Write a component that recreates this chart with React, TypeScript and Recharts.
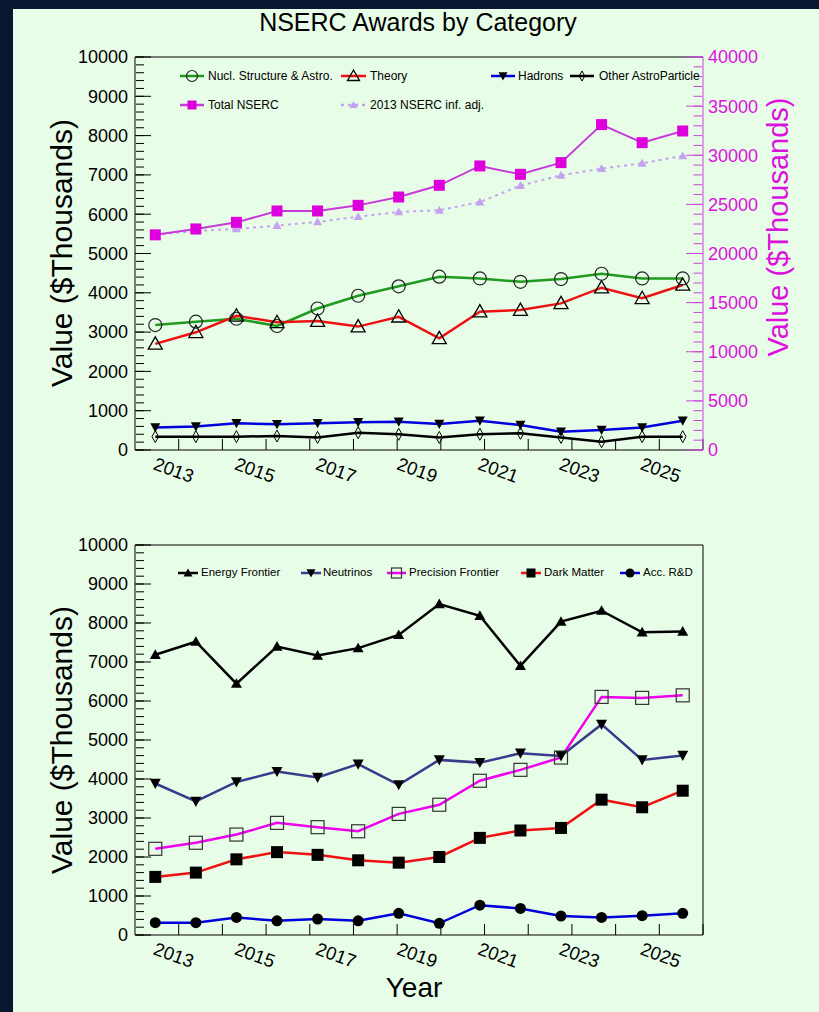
import React from "react";
import { LineChart, Line, XAxis, YAxis } from "recharts";

// fiscal years, one bin each
const years = ["2013", "2014", "2015", "2016", "2017", "2018", "2019", "2020", "2021", "2022", "2023", "2024", "2025", "2026"];

// top pad ($Thousands), left axis
const nuclStructure = [3180, 3265, 3340, 3155, 3600, 3925, 4165, 4410, 4365, 4280, 4350, 4485, 4365, 4365];
const theory = [2700, 2995, 3415, 3250, 3280, 3140, 3390, 2840, 3520, 3560, 3730, 4130, 3860, 4200];
const hadrons = [570, 595, 680, 655, 680, 705, 720, 660, 745, 635, 465, 510, 575, 745];
const otherAstro = [340, 340, 340, 355, 320, 440, 400, 320, 400, 425, 320, 210, 340, 340];
// top pad, right axis
const totalNserc = [21900, 22500, 23170, 24330, 24330, 24900, 25750, 26940, 28910, 28060, 29250, 33120, 31280, 32470];
const nserc2013Adj = [21900, 22290, 22500, 22840, 23210, 23750, 24230, 24400, 25240, 26910, 27960, 28640, 29180, 29930];

// bottom pad
const energyFrontier = [7185, 7520, 6445, 7395, 7165, 7355, 7695, 8485, 8185, 6900, 8035, 8315, 7760, 7780];
const neutrinos = [3885, 3425, 3925, 4190, 4040, 4380, 3850, 4490, 4420, 4660, 4590, 5400, 4490, 4605];
const precisionFrontier = [2210, 2365, 2575, 2875, 2765, 2660, 3105, 3340, 3955, 4235, 4550, 6105, 6080, 6145];
const darkMatter = [1490, 1600, 1940, 2125, 2055, 1915, 1855, 2000, 2490, 2680, 2745, 3470, 3275, 3700];
const accRD = [315, 315, 450, 365, 410, 365, 555, 300, 765, 680, 485, 450, 495, 555];

// axis ticks
const leftTicks = [0, 1000, 2000, 3000, 4000, 5000, 6000, 7000, 8000, 9000, 10000];
const leftMinor = Array.from({ length: 51 }, (_, i) => i * 200);
const rightTicks = [0, 5000, 10000, 15000, 20000, 25000, 30000, 35000, 40000];
const rightMinor = Array.from({ length: 41 }, (_, i) => i * 1000);
const binEdges = years.slice(1).map((_, i) => i + 1);

const topData = years.map((year, i) => ({
  year,
  nucl: nuclStructure[i],
  theory: theory[i],
  hadrons: hadrons[i],
  other: otherAstro[i],
  total: totalNserc[i],
  adj: nserc2013Adj[i],
}));

const bottomData = years.map((year, i) => ({
  year,
  energy: energyFrontier[i],
  neutrinos: neutrinos[i],
  precision: precisionFrontier[i],
  dark: darkMatter[i],
  acc: accRD[i],
}));

const FONT = '"Liberation Sans", Arial, Helvetica, sans-serif';
const MAGENTA_AXIS = "#cc44dd";
const MAGENTA_TEXT = "#dd11dd";
// plot is 568px wide with 14 bins: half a bin of padding puts points at bin centres
const HALF_BIN = 568 / 14 / 2;

type Kind = "circleOpen" | "triangleOpen" | "triDown" | "diamondOpen" | "square" | "triangle" | "squareOpen" | "circle";

function Marker({ kind, cx, cy, color, size }: { kind: Kind; cx: number; cy: number; color: string; size: number }) {
  const h = size / 2;
  switch (kind) {
    case "circleOpen":
      return <circle cx={cx} cy={cy} r={h} fill="none" stroke={color} strokeWidth={1.2} />;
    case "circle":
      return <circle cx={cx} cy={cy} r={h} fill={color} />;
    case "triangleOpen":
      return <polygon points={`${cx},${cy - h} ${cx - h},${cy + h * 0.75} ${cx + h},${cy + h * 0.75}`} fill="none" stroke={color} strokeWidth={1.3} />;
    case "triangle":
      return <polygon points={`${cx},${cy - h} ${cx - h},${cy + h * 0.75} ${cx + h},${cy + h * 0.75}`} fill={color} />;
    case "triDown":
      return <polygon points={`${cx - h},${cy - h * 0.85} ${cx + h},${cy - h * 0.85} ${cx},${cy + h}`} fill={color} />;
    case "diamondOpen":
      return <polygon points={`${cx},${cy - h} ${cx + h * 0.55},${cy} ${cx},${cy + h} ${cx - h * 0.55},${cy}`} fill="none" stroke={color} strokeWidth={1} />;
    case "squareOpen":
      return <rect x={cx - h} y={cy - h} width={size} height={size} fill="none" stroke={color} strokeWidth={1.2} />;
    default:
      return <rect x={cx - h} y={cy - h} width={size} height={size} fill={color} />;
  }
}

const dotOf = (kind: Kind, color: string, size: number) => (p: any) => (
  <Marker key={`m-${p.index}`} kind={kind} cx={p.cx} cy={p.cy} color={color} size={size} />
);

// year labels, rotated like the original
function YearTick(props: any) {
  const { x, y, payload } = props;
  const tx = x - 3;
  const ty = y + 19;
  return (
    <text x={tx} y={ty} transform={`rotate(20 ${tx} ${ty})`} textAnchor="start" fontSize={18.5} fill="#000">
      {payload.value}
    </text>
  );
}

const NoTick = () => <g />;

const rotTitle = (x: number, y: number, color: string, size: number, text: string) => () => (
  <text x={x} y={y} transform={`rotate(-90 ${x} ${y})`} textAnchor="middle" fill={color} fontSize={size}>
    {text}
  </text>
);

const flatTitle = (x: number, y: number, size: number, text: string) => () => (
  <text x={x} y={y} textAnchor="middle" fill="#000" fontSize={size}>
    {text}
  </text>
);

function LegendItem({ x, y, len, textX, color, dash, kind, mColor, size, label, fontSize }: {
  x: number; y: number; len: number; textX: number; color: string; dash?: string; kind: Kind; mColor: string; size: number; label: string; fontSize: number;
}) {
  return (
    <>
      <svg style={{ position: "absolute", left: x, top: y - 8, overflow: "visible" }} width={len} height={16}>
        <line x1={0} y1={8} x2={len} y2={8} stroke={color} strokeWidth={2.5} strokeDasharray={dash} />
        <Marker kind={kind} cx={len / 2} cy={8} color={mColor} size={size} />
      </svg>
      <span style={{ position: "absolute", left: textX, top: y - fontSize * 0.62, fontSize, lineHeight: `${fontSize * 1.2}px`, whiteSpace: "nowrap", color: "#000" }}>
        {label}
      </span>
    </>
  );
}

// tick-only axes (ticks point into the frame); a 0 size axis is not drawn, so 1px.
// allowDataOverflow lets the fixed domain stand with no series attached
function edgeAxes() {
  return [
    <XAxis key="edge" xAxisId="edge" type="number" domain={[0, 14]} allowDataOverflow ticks={binEdges} mirror height={1} tick={NoTick} axisLine={false} tickSize={11} stroke="#000" interval={0} />,
    <XAxis key="top" xAxisId="top" orientation="top" type="number" domain={[0, 14]} allowDataOverflow height={1} tick={false} tickLine={false} stroke="#000" />,
    <YAxis key="lmaj" yAxisId="leftMajor" mirror width={1} domain={[0, 10000]} allowDataOverflow ticks={leftTicks} tick={NoTick} axisLine={false} tickSize={16} stroke="#000" interval={0} />,
    <YAxis key="lmin" yAxisId="leftMinor" mirror width={1} domain={[0, 10000]} allowDataOverflow ticks={leftMinor} tick={NoTick} axisLine={false} tickSize={8} stroke="#000" interval={0} />,
  ];
}

export default function App() {
  return (
    <div style={{ position: "absolute", left: 0, top: 0, width: 819, height: 1012, background: "#0b1631", fontFamily: FONT, overflow: "hidden" }}>
      <div style={{ position: "absolute", left: 13, top: 9, width: 806, height: 1003, background: "#e8fde8" }} />

      <div style={{ position: "absolute", left: 0, top: 7, width: 836, textAlign: "center", fontSize: 25, lineHeight: "30px", color: "#000" }}>
        NSERC Awards by Category
      </div>

      {/* top pad */}
      <div style={{ position: "absolute", left: 0, top: 0 }}>
        <LineChart width={819} height={500} data={topData} margin={{ top: 56, right: 0, bottom: 0, left: 0 }}>
          <XAxis dataKey="year" height={50} interval={1} padding={{ left: HALF_BIN, right: HALF_BIN }} tick={<YearTick />} tickLine={false} tickSize={0} tickMargin={0} stroke="#000" />
          {edgeAxes()}
          <YAxis yAxisId="left" width={135} domain={[0, 10000]} allowDataOverflow ticks={leftTicks} interval={0} tickLine={false} tickSize={0} tickMargin={7}
            stroke="#000" tick={{ fill: "#000", fontSize: 18 }}
            label={{ content: rotTitle(72, 253, "#000", 30, "Value ($Thousands)") }} />
          <YAxis yAxisId="right" orientation="right" width={116} domain={[0, 40000]} allowDataOverflow ticks={rightTicks} interval={0} tickLine={false} tickSize={0} tickMargin={5}
            stroke={MAGENTA_AXIS} tick={{ fill: MAGENTA_TEXT, fontSize: 18 }}
            label={{ content: rotTitle(788, 227, MAGENTA_TEXT, 29, "Value ($Thousands)") }} />
          <YAxis yAxisId="rightMajor" orientation="right" mirror width={1} domain={[0, 40000]} allowDataOverflow ticks={rightTicks} tick={NoTick} axisLine={false} tickSize={17} stroke={MAGENTA_AXIS} interval={0} />
          <YAxis yAxisId="rightMinor" orientation="right" mirror width={1} domain={[0, 40000]} allowDataOverflow ticks={rightMinor} tick={NoTick} axisLine={false} tickSize={8.5} stroke={MAGENTA_AXIS} interval={0} />

          <Line yAxisId="right" dataKey="adj" stroke="#c4a2f0" strokeWidth={2} strokeDasharray="3 4" dot={dotOf("triangle", "#c4a2f0", 9)} isAnimationActive={false} />
          <Line yAxisId="right" dataKey="total" stroke="#c83ad8" strokeWidth={2} dot={dotOf("square", "#dd00dd", 11)} isAnimationActive={false} />
          <Line yAxisId="left" dataKey="other" stroke="#000" strokeWidth={2.5} dot={dotOf("diamondOpen", "#000", 12)} isAnimationActive={false} />
          <Line yAxisId="left" dataKey="hadrons" stroke="#0000dd" strokeWidth={2.5} dot={dotOf("triDown", "#000", 10)} isAnimationActive={false} />
          <Line yAxisId="left" dataKey="nucl" stroke="#1f9a1f" strokeWidth={2.5} dot={dotOf("circleOpen", "#222", 13)} isAnimationActive={false} />
          <Line yAxisId="left" dataKey="theory" stroke="#ee1111" strokeWidth={2.5} dot={dotOf("triangleOpen", "#000", 14)} isAnimationActive={false} />
        </LineChart>
      </div>

      {/* top legend */}
      <LegendItem x={180} y={76} len={24} textX={208} color="#1f9a1f" kind="circleOpen" mColor="#222" size={11} label="Nucl. Structure & Astro." fontSize={12} />
      <LegendItem x={341} y={76} len={25} textX={370} color="#ee1111" kind="triangleOpen" mColor="#000" size={12} label="Theory" fontSize={12} />
      <LegendItem x={491} y={76} len={24} textX={518} color="#0000dd" kind="triDown" mColor="#000" size={9} label="Hadrons" fontSize={12} />
      <LegendItem x={570} y={76} len={24} textX={599} color="#000" kind="diamondOpen" mColor="#000" size={10} label="Other AstroParticle" fontSize={12} />
      <LegendItem x={180} y={105} len={24} textX={208} color="#c83ad8" kind="square" mColor="#dd00dd" size={9} label="Total NSERC" fontSize={12} />
      <LegendItem x={341} y={105} len={25} textX={370} color="#c4a2f0" dash="3 4" kind="triangle" mColor="#c4a2f0" size={8} label="2013 NSERC inf. adj." fontSize={12} />

      {/* bottom pad */}
      <div style={{ position: "absolute", left: 0, top: 500 }}>
        <LineChart width={819} height={512} data={bottomData} margin={{ top: 44, right: 0, bottom: 0, left: 0 }}>
          <XAxis dataKey="year" height={77} interval={1} padding={{ left: HALF_BIN, right: HALF_BIN }} tick={<YearTick />} tickLine={false} tickSize={0} tickMargin={0} stroke="#000"
            label={{ content: flatTitle(414, 497, 28, "Year") }} />
          {edgeAxes()}
          <YAxis yAxisId="left" width={135} domain={[0, 10000]} allowDataOverflow ticks={leftTicks} interval={0} tickLine={false} tickSize={0} tickMargin={7}
            stroke="#000" tick={{ fill: "#000", fontSize: 18 }}
            label={{ content: rotTitle(72, 240, "#000", 30, "Value ($Thousands)") }} />
          <YAxis yAxisId="frame" orientation="right" width={116} domain={[0, 10000]} allowDataOverflow tick={false} tickLine={false} stroke="#000" />

          <Line yAxisId="left" dataKey="acc" stroke="#0000dd" strokeWidth={2.5} dot={dotOf("circle", "#000", 11)} isAnimationActive={false} />
          <Line yAxisId="left" dataKey="dark" stroke="#ee1111" strokeWidth={2.5} dot={dotOf("square", "#000", 12)} isAnimationActive={false} />
          <Line yAxisId="left" dataKey="precision" stroke="#ee00ee" strokeWidth={2.5} dot={dotOf("squareOpen", "#333", 13)} isAnimationActive={false} />
          <Line yAxisId="left" dataKey="neutrinos" stroke="#3a3a8c" strokeWidth={2.5} dot={dotOf("triDown", "#000", 11)} isAnimationActive={false} />
          <Line yAxisId="left" dataKey="energy" stroke="#000" strokeWidth={2.5} dot={dotOf("triangle", "#000", 11)} isAnimationActive={false} />
        </LineChart>
      </div>

      {/* bottom legend */}
      <LegendItem x={178} y={573} len={20} textX={201} color="#000" kind="triangle" mColor="#000" size={9} label="Energy Frontier" fontSize={11.5} />
      <LegendItem x={301} y={573} len={20} textX={323} color="#3a3a8c" kind="triDown" mColor="#000" size={9} label="Neutrinos" fontSize={11.5} />
      <LegendItem x={387} y={573} len={19} textX={409} color="#ee00ee" kind="squareOpen" mColor="#333" size={10} label="Precision Frontier" fontSize={11.5} />
      <LegendItem x={521} y={573} len={20} textX={544} color="#ee1111" kind="square" mColor="#000" size={9} label="Dark Matter" fontSize={11.5} />
      <LegendItem x={620} y={573} len={20} textX={643} color="#0000dd" kind="circle" mColor="#000" size={9} label="Acc. R&D" fontSize={11.5} />
    </div>
  );
}
